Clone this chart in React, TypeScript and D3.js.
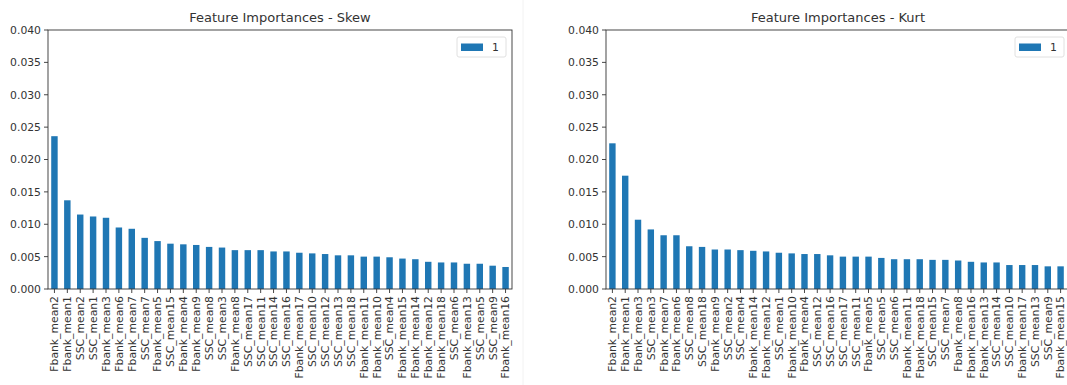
import React from "react";
import * as d3 from "d3";

// Feature importances, sorted descending, for the skewness model
const skewFeatures = [
  "Fbank_mean2", "Fbank_mean1", "SSC_mean2", "SSC_mean1", "Fbank_mean3", "Fbank_mean6",
  "Fbank_mean7", "SSC_mean7", "Fbank_mean5", "SSC_mean15", "Fbank_mean4", "Fbank_mean9",
  "SSC_mean8", "SSC_mean3", "Fbank_mean8", "SSC_mean17", "SSC_mean11", "SSC_mean14",
  "SSC_mean16", "Fbank_mean17", "SSC_mean10", "SSC_mean12", "SSC_mean13", "SSC_mean18",
  "Fbank_mean11", "Fbank_mean10", "SSC_mean4", "Fbank_mean15", "Fbank_mean14", "Fbank_mean12",
  "Fbank_mean18", "SSC_mean6", "Fbank_mean13", "SSC_mean5", "SSC_mean9", "Fbank_mean16",
];
const skewValues = [
  0.0236, 0.0137, 0.0115, 0.0112, 0.011, 0.0095,
  0.0093, 0.0079, 0.0074, 0.007, 0.0069, 0.0068,
  0.0065, 0.0064, 0.006, 0.006, 0.006, 0.0058,
  0.0058, 0.0056, 0.0055, 0.0054, 0.0052, 0.0052,
  0.005, 0.005, 0.0049, 0.0047, 0.0046, 0.0042,
  0.0041, 0.0041, 0.0039, 0.0039, 0.0036, 0.0034,
];

// Feature importances, sorted descending, for the kurtosis model
const kurtFeatures = [
  "Fbank_mean2", "Fbank_mean1", "Fbank_mean3", "SSC_mean3", "Fbank_mean7", "Fbank_mean6",
  "SSC_mean8", "SSC_mean18", "Fbank_mean9", "SSC_mean2", "SSC_mean4", "Fbank_mean14",
  "Fbank_mean12", "SSC_mean1", "Fbank_mean10", "Fbank_mean4", "SSC_mean12", "SSC_mean16",
  "SSC_mean17", "SSC_mean11", "Fbank_mean5", "SSC_mean5", "SSC_mean6", "Fbank_mean11",
  "Fbank_mean18", "SSC_mean15", "SSC_mean7", "Fbank_mean8", "Fbank_mean16", "Fbank_mean13",
  "SSC_mean14", "SSC_mean10", "Fbank_mean17", "SSC_mean13", "SSC_mean9", "Fbank_mean15",
];
const kurtValues = [
  0.0225, 0.0175, 0.0107, 0.0092, 0.0083, 0.0083,
  0.0066, 0.0065, 0.0061, 0.0061, 0.006, 0.0059,
  0.0058, 0.0056, 0.0055, 0.0054, 0.0054, 0.0052,
  0.005, 0.005, 0.005, 0.0048, 0.0046, 0.0046,
  0.0046, 0.0045, 0.0045, 0.0044, 0.0042, 0.0041,
  0.0041, 0.0037, 0.0037, 0.0037, 0.0035, 0.0035,
];

const yTicks = [0, 0.005, 0.01, 0.015, 0.02, 0.025, 0.03, 0.035, 0.04];
const seriesName = "1";

const BAR = "#1f77b4";
const INK = "#333";
const FONT = "'DejaVu Sans', sans-serif";

type PanelProps = {
  title: string;
  features: string[];
  values: number[];
  left: number;
  right: number;
  frameRight: number;
  legendRight: number;
};

function Panel({ title, features, values, left, right, frameRight, legendRight }: PanelProps) {
  const top = 30;
  const bottom = 289;
  const x = d3.scaleBand<string>().domain(features).range([left, right]).paddingInner(0.5).paddingOuter(0.25);
  const y = d3.scaleLinear().domain([0, 0.04]).range([bottom, top]);
  const fmt = d3.format(".3f");
  return (
    <g>
      <text x={(left + frameRight) / 2} y={22} textAnchor="middle" fontSize={13} fill={INK} fontFamily={FONT}>
        {title}
      </text>
      {features.map((f, i) => (
        <rect key={f} x={x(f)!} y={y(values[i])} width={x.bandwidth()} height={bottom - y(values[i])} fill={BAR} />
      ))}
      {yTicks.map((t) => (
        <g key={t}>
          <line x1={left - 4} x2={left} y1={y(t)} y2={y(t)} stroke={INK} strokeWidth={0.9} />
          <text x={left - 7} y={y(t)} dy="0.36em" textAnchor="end" fontSize={10.8} fill={INK} fontFamily={FONT}>
            {fmt(t)}
          </text>
        </g>
      ))}
      {features.map((f) => {
        const cx = x(f)! + x.bandwidth() / 2;
        return (
          <g key={"t" + f}>
            <line x1={cx} x2={cx} y1={bottom} y2={bottom + 4} stroke={INK} strokeWidth={0.9} />
            <text
              transform={`translate(${cx},${bottom + 7}) rotate(-90)`}
              dy="0.36em"
              textAnchor="end"
              fontSize={10.8}
              fill={INK}
              fontFamily={FONT}
            >
              {f}
            </text>
          </g>
        );
      })}
      <rect x={left} y={top} width={frameRight - left} height={bottom - top} fill="none" stroke={INK} strokeWidth={0.9} />
      <g>
        <rect x={legendRight - 49} y={37} width={49} height={20} rx={2} fill="#fff" fillOpacity={0.8} stroke="#ddd" strokeWidth={0.9} />
        <rect x={legendRight - 45} y={43.5} width={22} height={7.5} fill={BAR} />
        <text x={legendRight - 14} y={47.5} dy="0.36em" fontSize={10.8} fill={INK} fontFamily={FONT}>
          {seriesName}
        </text>
      </g>
    </g>
  );
}

export default function App() {
  return (
    <svg width={1067} height={385} style={{ position: "absolute", left: 0, top: 0, background: "#fff" }}>
      <rect width={1067} height={385} fill="#fff" />
      <line x1={523} x2={523} y1={0} y2={385} stroke="#f2f2f2" strokeWidth={1} />
      <Panel title="Feature Importances - Skew" features={skewFeatures} values={skewValues} left={48} right={512} frameRight={512} legendRight={506} />
      <Panel title="Feature Importances - Kurt" features={kurtFeatures} values={kurtValues} left={606} right={1067} frameRight={1070} legendRight={1064} />
    </svg>
  );
}
